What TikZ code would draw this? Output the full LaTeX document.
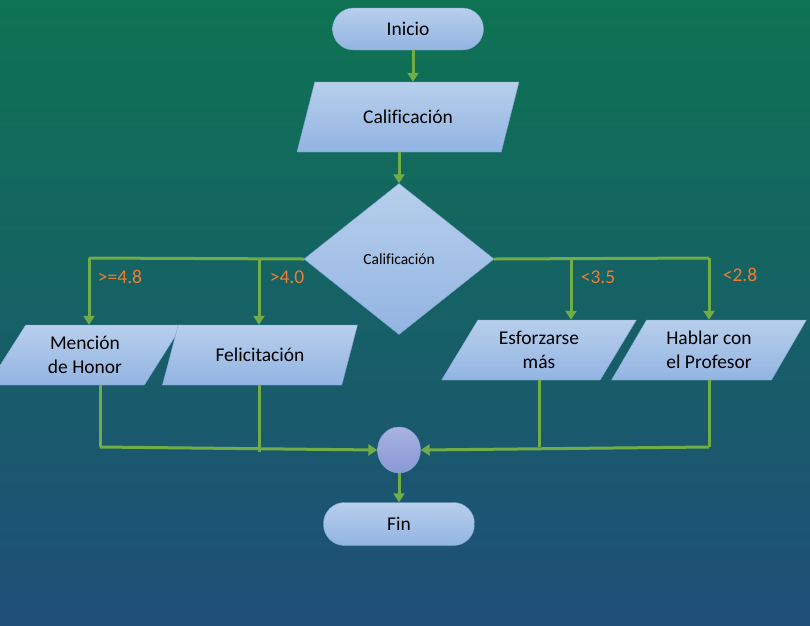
\documentclass[tikz,border=0pt]{standalone}
\usepackage{fontspec}
\setmainfont[Ligatures=NoCommon]{Carlito}
\usetikzlibrary{positioning}
\usetikzlibrary{shapes.geometric}
\usetikzlibrary{arrows.meta}

\definecolor{bgtop}{RGB}{13,115,82}
\definecolor{bgbot}{RGB}{31,78,121}
\definecolor{boxtop}{RGB}{184,207,236}
\definecolor{boxbot}{RGB}{146,180,226}
\definecolor{boxline}{RGB}{130,165,215}
\definecolor{circtop}{RGB}{168,178,226}
\definecolor{circbot}{RGB}{138,153,213}
\definecolor{flow}{RGB}{112,173,71}
\definecolor{cond}{RGB}{237,125,49}

\begin{document}
\begin{tikzpicture}[x=1pt, y=-1pt,
term/.style = {shape = rectangle, rounded corners = 21pt, draw = boxline, top color = boxtop, bottom color = boxbot, minimum width = 151pt, minimum height = 42pt, font = \fontsize{19.5}{24}\selectfont},
datos/.style = {shape = trapezium, trapezium left angle = 58, trapezium right angle = 122, trapezium stretches = true, draw = boxline, top color = boxtop, bottom color = boxbot, minimum width = 195pt, minimum height = 60pt, inner sep = 0pt, align = center, font = \fontsize{19.5}{24.5}\selectfont},
decide/.style = {shape = diamond, aspect = 1.26, draw = boxline, top color = boxtop, bottom color = boxbot, minimum width = 190pt, minimum height = 151pt, inner sep = 0pt, font = \fontsize{15.5}{18}\selectfont},
union/.style = {shape = ellipse, draw = boxline, top color = circtop, bottom color = circbot, minimum width = 43pt, minimum height = 46pt, inner sep = 0pt},
cond/.style = {text = cond, font = \fontsize{19.5}{23}\selectfont, inner sep = 0pt},
flecha/.style = {draw = flow, line width = 3pt, -{Triangle[length = 9pt, width = 11pt]}},
linea/.style = {draw = flow, line width = 3pt},
]
% fondo
\shade[top color = bgtop, bottom color = bgbot] (0, 0) rectangle (810, 625);
\useasboundingbox (0, 0) rectangle (810, 625);

\node[term] (inicio) at (408, 29) {Inicio};
\node[datos, minimum width = 222pt, minimum height = 70pt] (leer) at (408, 117) {Calificación};
\node[decide] (calif) at (399, 259) {Calificación};

\node[datos] (honor) at (85, 355) {Mención\\de Honor};
\node[datos] (felic) at (260, 355) {Felicitación};
\node[datos] (esfuerzo) at (539, 350) {Esforzarse\\más};
\node[datos] (profe) at (709, 350) {Hablar con\\el Profesor};

\node[union] (junta) at (399, 450) {};
\node[term, minimum height = 43pt] (fin) at (399, 524) {Fin};

% condiciones
\node[cond] (c1) at (120, 277) {>=4.8};
\node[cond] (c2) at (287, 277) {>4.0};
\node[cond] (c3) at (598, 277) {<3.5};
\node[cond] (c4) at (740, 275) {<2.8};

% coordenadas de las ramas
\coordinate (r1) at (89, 258);
\coordinate (r2) at (259, 258);
\coordinate (r3) at (571, 258);
\coordinate (r4) at (709, 258);
\coordinate (b1) at (100, 447);
\coordinate (b2) at (259, 452);
\coordinate (b3) at (539, 447);
\coordinate (b4) at (709, 447);

\path[flecha] (inicio.south -| 413, 0) -- (leer.north -| 413, 0);
\path[flecha] (leer.south -| 399, 0) -- (calif.north);

\path[linea] (calif.west) -- (r1);
\path[flecha] (r1) -- (honor.north -| r1);
\path[flecha] (r2) -- (felic.north -| r2);
\path[linea] (calif.east) -- (r4);
\path[flecha] (r3) -- (esfuerzo.north -| r3);
\path[flecha] (r4) -- (profe.north -| r4);

\path[linea] (honor.south -| b1) -- (b1);
\path[flecha] (b1) -- (junta.west);
\path[linea] (felic.south -| b2) -- (b2);
\path[linea] (esfuerzo.south -| b3) -- (b3);
\path[linea] (profe.south -| b4) -- (b4);
\path[flecha] (b4) -- (junta.east);

\path[flecha] (junta.south) -- (fin.north);
\end{tikzpicture}
\end{document}
